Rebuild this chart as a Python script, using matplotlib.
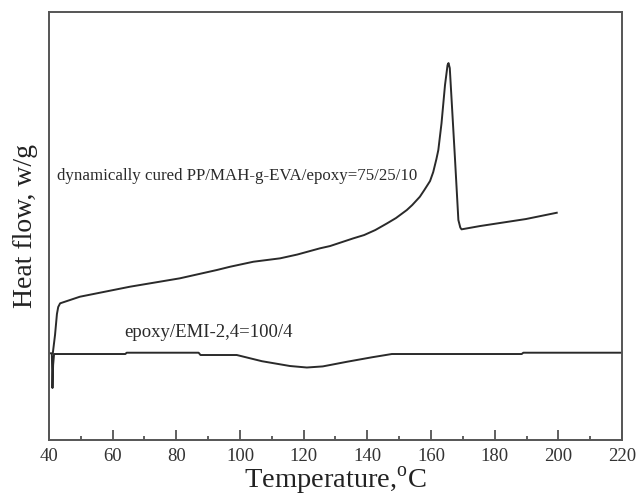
import matplotlib
matplotlib.use('Agg')
import matplotlib.pyplot as plt
from matplotlib.ticker import MultipleLocator

plt.rcParams['font.family'] = ['Liberation Serif', 'DejaVu Serif']
plt.rcParams['mathtext.fontset'] = 'custom'
plt.rcParams['mathtext.rm'] = 'Liberation Serif'

# dynamically cured PP/MAH-g-EVA/epoxy curve (arbitrary heat-flow units)
cured_t = [41.2, 41.9, 42.5, 42.9, 43.5, 49.7, 65.4, 81.1, 92.7, 96.9, 104.2,
           112.6, 118.0, 125.1, 128.3, 135.6, 139.0, 142.5, 146.1, 149.0, 152.4,
           154.1, 156.5, 157.9, 159.7, 160.7, 161.7, 162.3, 163.3, 164.4, 165.2,
           165.5, 165.9, 167.5, 168.6, 169.2, 169.6, 175.4, 189.8, 199.5]
cured_hf = [86.7, 105, 126, 133, 136.7, 143.3, 153.3, 161.7, 170, 173.3, 178.3,
            181.7, 185.5, 191.7, 194, 201.7, 205, 210, 216.5, 222, 230,
            235, 243.3, 250, 259, 268, 281, 290, 316.7, 355, 375,
            377, 372, 283.3, 220, 212.5, 210.7, 214, 221, 227.3]

# epoxy/EMI-2,4 curve
epoxy_t = [40.4, 40.9, 41.1, 41.3, 41.6, 64.0, 64.4, 87.0, 87.6, 99.0, 106.9,
           115.7, 121.0, 126.0, 133.7, 141.4, 147.7, 188.5, 189.0, 220.0]
epoxy_hf = [86.7, 86.7, 52, 75, 86.0, 86.0, 87.3, 87.3, 85.0, 85.0, 78.8,
            74.0, 72.5, 73.6, 78.3, 82.7, 86.0, 86.0, 87.3, 87.3]

fig = plt.figure(figsize=(6.36, 5.04), dpi=100)
ax = fig.add_axes([0.077, 0.127, 0.901, 0.849])

ax.plot(cured_t, cured_hf, color='#2a2a2a', lw=1.4)
ax.plot(epoxy_t, epoxy_hf, color='#2a2a2a', lw=1.4)

ax.text(42.6, 264, 'dynamically cured PP/MAH-g-EVA/epoxy=75/25/10',
        fontsize=12.2, va='center', ha='left', color='#2a2a2a')
ax.text(63.8, 108, 'epoxy/EMI-2,4=100/4', fontsize=13.5, va='center',
        ha='left', color='#2a2a2a')

ax.set_xlim(40, 220)
ax.set_ylim(0, 428)
ax.xaxis.set_major_locator(MultipleLocator(20))
ax.xaxis.set_minor_locator(MultipleLocator(10))
ax.tick_params(axis='x', which='major', direction='in', length=7, width=1.2,
               labelsize=13.5, colors='#444444', labelcolor='#333333', pad=6)
ax.tick_params(axis='x', which='minor', direction='in', length=3, width=1.2,
               colors='#444444')
ax.set_yticks([])
for s in ax.spines.values():
    s.set_color('#555555')
    s.set_linewidth(1.4)

ax.set_xlabel('Temperature,$^{\\rm o}$C', fontsize=20.5, labelpad=0,
              color='#222222')
ax.set_ylabel('Heat flow, w/g', fontsize=20, labelpad=8, color='#222222')

fig.savefig('out.png', dpi=100)
